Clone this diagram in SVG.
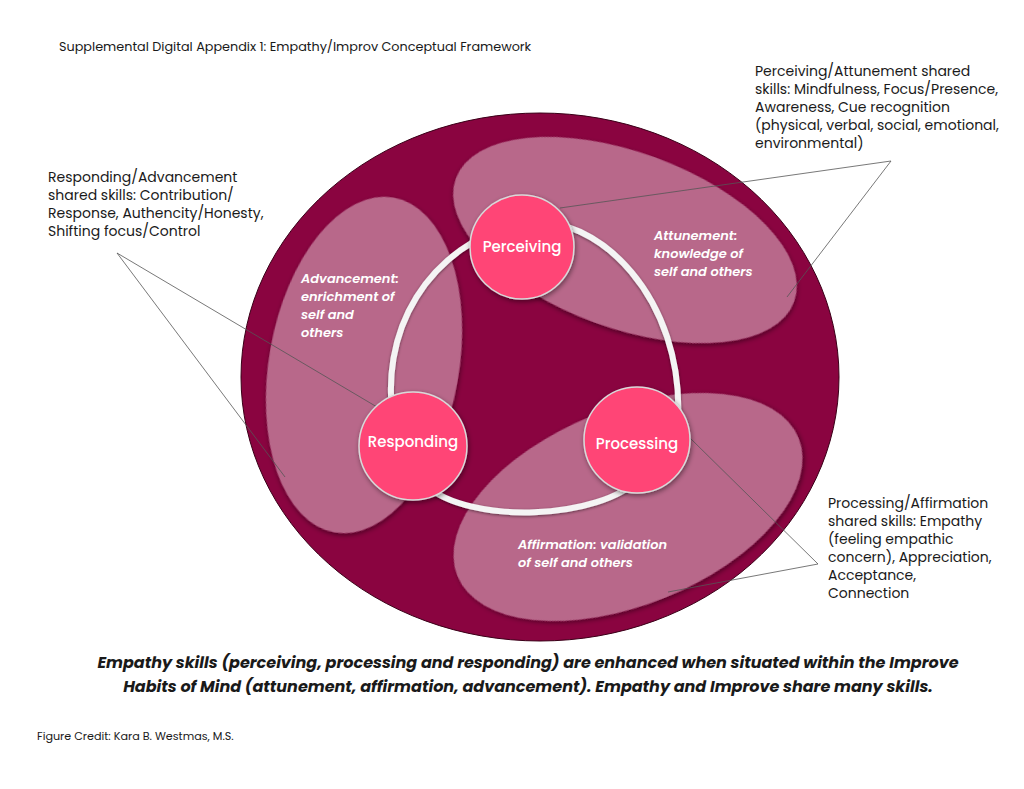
<svg xmlns="http://www.w3.org/2000/svg" width="1024" height="789" viewBox="0 0 1024 789">
<defs>
  <filter id="sh" x="-20%" y="-20%" width="140%" height="140%">
    <feDropShadow dx="1" dy="2" stdDeviation="2.5" flood-color="#000" flood-opacity="0.45"/>
  </filter>
  <filter id="sh2" x="-10%" y="-10%" width="120%" height="120%">
    <feDropShadow dx="0" dy="1" stdDeviation="1.5" flood-color="#000" flood-opacity="0.5"/>
  </filter>
</defs>
<style>
  .t { font-family: "Poppins", "Open Sans", "Liberation Sans", sans-serif; fill: #1a1a1a; }
  .ann { font-size: 14px; }
  .hab { font-family: "Poppins", "Open Sans", "Liberation Sans", sans-serif; font-size: 13px; font-weight: 600; font-style: italic; fill: #ffffff; }
  .node { fill: #FF4476; stroke: #d9d9d9; stroke-width: 1.5; filter: url(#sh); }
  .nl { font-family: "Poppins", "Open Sans", "Liberation Sans", sans-serif; font-size: 15px; font-weight: 500; fill: #ffffff; text-anchor: middle; }
  .zone { fill: #B8678A; filter: url(#sh); }
  .call { stroke: #555555; stroke-width: 0.8; fill: none; }
</style>
<rect width="1024" height="789" fill="#ffffff"/>

<text class="t" x="59" y="51" font-size="12.8">Supplemental Digital Appendix 1: Empathy/Improv Conceptual Framework</text>

<g id="outer">
  <ellipse cx="540" cy="377" rx="299" ry="264" fill="#8A0440" stroke="#3a0018" stroke-width="1"/>
</g>

<g id="attunement">
  <ellipse class="zone" cx="625" cy="240" rx="180" ry="88" transform="rotate(20 625 240)"/>
  <text class="hab" x="654" y="240">Attunement:</text>
  <text class="hab" x="654" y="258">knowledge of</text>
  <text class="hab" x="654" y="276">self and others</text>
</g>

<g id="advancement">
  <ellipse class="zone" cx="364" cy="365" rx="95" ry="170" transform="rotate(10 364 365)"/>
  <text class="hab" x="301" y="283">Advancement:</text>
  <text class="hab" x="301" y="301">enrichment of</text>
  <text class="hab" x="301" y="319">self and</text>
  <text class="hab" x="301" y="337">others</text>
</g>

<g id="affirmation">
  <ellipse class="zone" cx="628" cy="507" rx="184" ry="98" transform="rotate(-22 628 507)"/>
  <text class="hab" x="518" y="549">Affirmation: validation</text>
  <text class="hab" x="518" y="567">of self and others</text>
</g>

<g id="connectors">
  <path id="cycle" d="M 522,222 C 600,212 684,300 678,420 L 640,478 C 600,520 470,525 425,485 L 395,430 C 375,330 430,245 522,222 Z" fill="none" stroke="#f4f4f4" stroke-width="6" filter="url(#sh2)"/>
  <polyline class="call" points="560,208 891,161 787,297"/>
  <polyline class="call" points="377,407 117,253 285,477"/>
  <polyline class="call" points="690,438 818,564 668,592"/>
</g>

<g id="perceiving">
  <circle class="node" cx="522" cy="247" r="52"/>
  <text class="nl" x="522" y="252">Perceiving</text>
</g>
<g id="processing">
  <circle class="node" cx="637" cy="440" r="53"/>
  <text class="nl" x="637" y="449">Processing</text>
</g>
<g id="responding">
  <circle class="node" cx="413" cy="446" r="54"/>
  <text class="nl" x="413" y="447">Responding</text>
</g>

<g id="note-perceiving">
  <text class="t ann" x="755" y="76">Perceiving/Attunement shared</text>
  <text class="t ann" x="755" y="94">skills: Mindfulness, Focus/Presence,</text>
  <text class="t ann" x="755" y="112">Awareness, Cue recognition</text>
  <text class="t ann" x="755" y="130">(physical, verbal, social, emotional,</text>
  <text class="t ann" x="755" y="148">environmental)</text>
</g>

<g id="note-responding">
  <text class="t ann" x="48" y="182">Responding/Advancement</text>
  <text class="t ann" x="48" y="200">shared skills: Contribution/</text>
  <text class="t ann" x="48" y="218">Response, Authencity/Honesty,</text>
  <text class="t ann" x="48" y="236">Shifting focus/Control</text>
</g>

<g id="note-processing">
  <text class="t ann" x="828" y="508">Processing/Affirmation</text>
  <text class="t ann" x="828" y="526">shared skills: Empathy</text>
  <text class="t ann" x="828" y="544">(feeling empathic</text>
  <text class="t ann" x="828" y="562">concern), Appreciation,</text>
  <text class="t ann" x="828" y="580">Acceptance,</text>
  <text class="t ann" x="828" y="598">Connection</text>
</g>

<g id="caption">
  <text class="t" x="528" y="668" font-size="16" font-weight="700" font-style="italic" text-anchor="middle">Empathy skills (perceiving, processing and responding) are enhanced when situated within the Improve</text>
  <text class="t" x="528" y="692" font-size="16" font-weight="700" font-style="italic" text-anchor="middle">Habits of Mind (attunement, affirmation, advancement). Empathy and Improve share many skills.</text>
</g>

<text class="t" x="37" y="740" font-size="11.2">Figure Credit: Kara B. Westmas, M.S.</text>
</svg>
